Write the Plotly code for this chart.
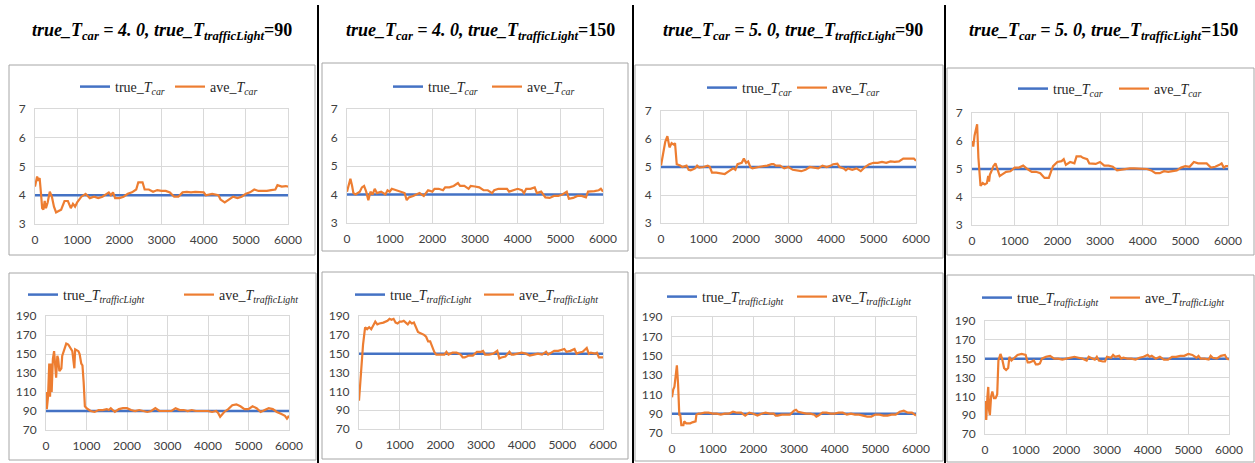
import plotly.graph_objects as go

W, H = 1255, 463

# ---------------- data ----------------
titles = [
    "<b><i>true_T<sub>car</sub> = 4. 0, true_T<sub>trafficLight</sub></i>=90</b>",
    "<b><i>true_T<sub>car</sub> = 4. 0, true_T<sub>trafficLight</sub></i>=150</b>",
    "<b><i>true_T<sub>car</sub> = 5. 0, true_T<sub>trafficLight</sub></i>=90</b>",
    "<b><i>true_T<sub>car</sub> = 5. 0, true_T<sub>trafficLight</sub></i>=150</b>",
]
true_car = [4.0, 4.0, 5.0, 5.0]
true_tl = [90, 150, 90, 150]
x_span = [0, 6000]
car_ticks = [3, 4, 5, 6, 7]
tl_ticks = [70, 90, 110, 130, 150, 170, 190]
x_ticks = [0, 1000, 2000, 3000, 4000, 5000, 6000]

legend_car = ["true_<i>T<sub>car</sub></i>", "ave_<i>T<sub>car</sub></i>"]
legend_tl = ["true_<i>T<sub>trafficLight</sub></i>", "ave_<i>T<sub>trafficLight</sub></i>"]

c1_car_x = [0, 50, 80, 110, 140, 170, 200, 230, 260, 300, 350, 400, 450, 500, 560, 620, 700, 780, 850, 900,
            950, 1000, 1100, 1200, 1300, 1400, 1500, 1600, 1700, 1750, 1800, 1850, 1900, 2000, 2100, 2200,
            2300, 2400, 2450, 2550, 2600, 2700, 2800, 2900, 3000, 3100, 3200, 3300, 3400, 3500, 3600, 3700,
            3800, 3900, 4000, 4050, 4200, 4350, 4400, 4500, 4600, 4700, 4800, 4900, 5000, 5100, 5200, 5300,
            5400, 5500, 5600, 5700, 5750, 5850, 5950, 6000]
c1_car_y = [4.3, 4.65, 4.5, 4.6, 4.1, 3.55, 3.5, 3.8, 3.55, 3.75, 4.12, 3.95, 3.6, 3.4, 3.45, 3.5, 3.8, 3.8, 3.55, 3.7,
            3.6, 3.75, 3.95, 4.05, 3.9, 3.95, 3.9, 3.95, 4.05, 4.1, 4.0, 4.1, 3.9, 3.9, 3.95, 4.05,
            4.1, 4.2, 4.45, 4.45, 4.2, 4.2, 4.12, 4.18, 4.15, 4.15, 4.1, 3.95, 3.95, 4.1, 4.12, 4.1,
            4.12, 4.12, 4.1, 4.0, 4.05, 4.0, 3.85, 3.75, 3.85, 3.95, 3.9, 3.95, 4.05, 4.1, 4.2, 4.15,
            4.15, 4.15, 4.18, 4.2, 4.35, 4.3, 4.32, 4.3]

c1_tl_x = [0, 20, 50, 80, 100, 120, 140, 170, 200, 230, 250, 280, 300, 330, 380, 400, 450, 500, 550, 600, 650,
           700, 720, 800, 830, 870, 900, 930, 960, 1000, 1100, 1200, 1300, 1400, 1500, 1550, 1600, 1700, 1800,
           1900, 2000, 2100, 2200, 2300, 2400, 2500, 2600, 2700, 2800, 2900, 3000, 3100, 3200, 3300, 3400,
           3500, 3600, 3700, 3800, 3900, 4000, 4100, 4200, 4250, 4300, 4400, 4500, 4600, 4700, 4800, 4900,
           5000, 5100, 5200, 5300, 5400, 5500, 5600, 5700, 5800, 5900, 5950, 6000]
c1_tl_y = [110, 92, 105, 140, 105, 140, 110, 145, 153, 135, 125, 148, 145, 132, 135, 148, 155, 161, 160, 157, 153,
           135, 155, 153, 150, 140, 138, 120, 95, 93, 90, 89, 91, 91, 92, 91, 93, 89, 92,
           93, 93, 91, 90, 91, 90, 89, 90, 93, 90, 90, 90, 90, 93, 91, 91,
           90, 91, 90, 90, 90, 90, 89, 90, 88, 84, 89, 92, 96, 97, 95, 92,
           92, 95, 93, 89, 91, 93, 92, 89, 87, 85, 82, 85]

c2_car_x = [0, 50, 80, 120, 150, 200, 250, 300, 350, 400, 450, 500, 550, 600, 650, 700, 800, 900, 950, 1000,
            1050, 1150, 1250, 1350, 1400, 1450, 1550, 1650, 1700, 1800, 1850, 1900, 2000, 2050, 2150, 2250,
            2300, 2400, 2500, 2600, 2650, 2750, 2850, 2900, 3000, 3100, 3200, 3300, 3400, 3450, 3550, 3650,
            3750, 3800, 3900, 4000, 4100, 4150, 4200, 4300, 4400, 4450, 4550, 4650, 4750, 4850, 4950, 5050,
            5150, 5200, 5300, 5400, 5500, 5600, 5650, 5700, 5800, 5900, 5950, 6000]
c2_car_y = [4.1, 4.35, 4.55, 4.3, 4.05, 4.0, 4.05, 4.1, 4.25, 4.3, 4.1, 3.8, 4.1, 4.0, 4.2, 4.05, 4.1, 4.0, 4.15, 4.1,
            4.2, 4.15, 4.1, 4.05, 3.8, 3.9, 3.95, 4.0, 4.05, 3.95, 4.05, 4.15, 4.1, 4.2, 4.2, 4.15,
            4.25, 4.25, 4.3, 4.4, 4.3, 4.3, 4.2, 4.3, 4.28, 4.25, 4.15, 4.15, 4.05, 4.15, 4.2, 4.2,
            4.2, 4.1, 4.15, 4.2, 4.15, 4.05, 4.2, 4.2, 4.25, 4.05, 4.1, 3.9, 3.88, 3.95, 3.95, 4.0,
            4.1, 3.85, 3.88, 3.95, 3.95, 3.9, 4.1, 4.1, 4.12, 4.15, 4.2, 4.1]

c2_tl_x = [0, 50, 100, 150, 200, 250, 300, 350, 400, 450, 500, 600, 700, 750, 800, 850, 900, 950, 1000, 1050,
           1100, 1150, 1200, 1250, 1300, 1350, 1400, 1450, 1500, 1600, 1650, 1700, 1750, 1800, 1850, 1900,
           2000, 2100, 2150, 2200, 2300, 2400, 2500, 2550, 2600, 2700, 2800, 2900, 3000, 3050, 3100, 3200,
           3300, 3400, 3450, 3500, 3600, 3700, 3750, 3800, 3900, 4000, 4100, 4200, 4300, 4400, 4500, 4600,
           4650, 4800, 4900, 5000, 5050, 5100, 5200, 5300, 5350, 5400, 5500, 5600, 5650, 5700, 5800, 5850,
           5900, 6000]
c2_tl_y = [100, 130, 160, 178, 176, 178, 176, 180, 184, 181, 182, 183, 185, 187, 186, 187, 183, 182, 184, 184,
           185, 183, 181, 184, 182, 183, 178, 173, 172, 170, 168, 163, 163, 157, 152, 149,
           149, 149, 152, 149, 151, 151, 149, 146, 146, 148, 148, 152, 152, 153, 149, 149,
           150, 153, 145, 146, 147, 152, 149, 149, 150, 151, 150, 148, 149, 150, 149, 152,
           149, 153, 153, 154, 155, 152, 153, 155, 150, 151, 152, 156, 150, 151, 150, 151,
           146, 146]

c3_car_x = [0, 50, 100, 150, 200, 250, 300, 330, 370, 450, 500, 600, 650, 700, 800, 850, 900, 1000, 1100, 1150,
            1200, 1300, 1400, 1500, 1600, 1700, 1750, 1800, 1900, 1950, 2000, 2050, 2100, 2150, 2300, 2400,
            2500, 2600, 2650, 2700, 2800, 2900, 3000, 3100, 3200, 3300, 3400, 3500, 3600, 3700, 3800, 3900,
            4000, 4050, 4150, 4200, 4300, 4350, 4400, 4500, 4600, 4700, 4800, 4900, 5000, 5100, 5200, 5300,
            5400, 5500, 5600, 5700, 5800, 5900, 5950, 6000]
c3_car_y = [5.05, 5.5, 5.9, 6.1, 5.7, 5.85, 5.8, 5.85, 5.1, 5.05, 5.0, 5.05, 4.9, 4.88, 4.95, 5.05, 4.98, 5.0, 5.05, 5.0,
            4.8, 4.8, 4.78, 4.75, 4.85, 4.95, 4.9, 5.1, 5.15, 5.3, 5.15, 5.2, 5.0, 4.95, 5.0, 5.02,
            5.05, 5.1, 5.1, 5.05, 5.05, 4.95, 5.0, 4.9, 4.88, 4.85, 4.9, 5.0, 4.98, 4.95, 5.05, 5.0,
            5.05, 5.1, 5.12, 5.0, 4.95, 4.88, 4.95, 4.9, 4.95, 4.85, 5.0, 5.1, 5.15, 5.15, 5.18, 5.15,
            5.2, 5.18, 5.2, 5.3, 5.3, 5.3, 5.3, 5.22]

c3_tl_x = [0, 30, 60, 100, 120, 150, 180, 200, 230, 280, 300, 350, 400, 450, 500, 550, 580, 600, 650, 700, 800,
           900, 1000, 1100, 1200, 1300, 1400, 1500, 1600, 1700, 1800, 1900, 2000, 2100, 2200, 2300, 2400,
           2500, 2550, 2600, 2700, 2800, 2900, 3000, 3050, 3100, 3200, 3300, 3400, 3500, 3550, 3600, 3700,
           3800, 3900, 4000, 4100, 4200, 4300, 4400, 4500, 4600, 4700, 4800, 4900, 5000, 5100, 5200, 5300,
           5400, 5500, 5600, 5700, 5800, 5900, 6000]
c3_tl_y = [107, 115, 118, 135, 140, 120, 88, 90, 78, 78, 82, 80, 80, 80, 81, 82, 82, 89, 90, 90, 91,
           91, 90, 90, 89, 90, 90, 92, 91, 91, 88, 91, 90, 88, 90, 91, 90,
           90, 88, 88, 89, 89, 89, 93, 94, 92, 91, 90, 90, 89, 87, 88, 91,
           91, 90, 90, 91, 91, 89, 90, 89, 89, 88, 87, 87, 89, 89, 88, 88,
           89, 89, 92, 93, 91, 91, 88]

c4_car_x = [0, 30, 60, 100, 120, 150, 170, 200, 250, 300, 350, 380, 400, 420, 450, 500, 550, 600, 650, 700,
            800, 900, 1000, 1100, 1200, 1300, 1400, 1500, 1600, 1700, 1800, 1850, 1900, 2000, 2100, 2150,
            2200, 2300, 2400, 2450, 2550, 2600, 2700, 2750, 2900, 3000, 3100, 3200, 3300, 3400, 3500, 3600,
            3700, 3800, 3900, 4000, 4100, 4200, 4300, 4400, 4500, 4600, 4700, 4800, 4900, 5000, 5100, 5200,
            5300, 5400, 5500, 5600, 5700, 5800, 5850, 5900, 5950, 6000]
c4_car_y = [6.0, 5.8, 6.2, 6.5, 6.6, 5.4, 4.8, 4.4, 4.5, 4.45, 4.5, 4.75, 4.55, 4.8, 4.9, 5.1, 5.2, 5.0, 4.75, 4.8,
            4.9, 4.92, 5.05, 5.05, 5.12, 5.0, 4.9, 4.9, 4.85, 4.68, 4.68, 4.9, 5.1, 5.25, 5.28, 5.35,
            5.15, 5.25, 5.2, 5.45, 5.45, 5.4, 5.35, 5.2, 5.18, 5.25, 5.12, 5.12, 5.08, 4.95, 4.98, 5.0,
            5.02, 5.02, 5.02, 5.0, 5.0, 4.95, 4.85, 4.85, 4.92, 4.9, 4.92, 4.95, 5.05, 5.1, 5.08, 5.25,
            5.2, 5.2, 5.2, 5.05, 5.08, 5.15, 5.2, 5.05, 5.1, 5.1]

c4_tl_x = [0, 30, 60, 80, 100, 120, 150, 180, 220, 260, 300, 330, 380, 420, 470, 520, 570, 600, 650, 700, 800,
           900, 1000, 1050, 1100, 1200, 1250, 1300, 1350, 1400, 1500, 1600, 1700, 1800, 1900, 2000, 2100,
           2200, 2300, 2400, 2500, 2550, 2600, 2700, 2750, 2800, 2900, 2950, 3000, 3100, 3150, 3200, 3300,
           3350, 3400, 3500, 3600, 3700, 3800, 3900, 4000, 4050, 4100, 4200, 4300, 4400, 4500, 4600, 4700,
           4800, 4900, 5000, 5100, 5200, 5250, 5300, 5400, 5500, 5550, 5600, 5700, 5800, 5900, 5950, 6000]
c4_tl_y = [105, 85, 110, 120, 95, 90, 110, 115, 108, 108, 112, 148, 155, 150, 140, 138, 140, 152, 148, 150, 154,
           155, 154, 146, 146, 148, 144, 144, 145, 150, 152, 153, 150, 150, 149, 150, 151,
           152, 151, 150, 148, 152, 151, 149, 152, 148, 147, 147, 152, 151, 154, 152, 153,
           150, 151, 150, 150, 149, 151, 152, 154, 152, 153, 150, 152, 149, 149, 152, 152,
           153, 153, 155, 154, 151, 153, 150, 150, 149, 153, 151, 150, 153, 154, 150, 149]

car_series = [(c1_car_x, c1_car_y), (c2_car_x, c2_car_y), (c3_car_x, c3_car_y), (c4_car_x, c4_car_y)]
tl_series = [(c1_tl_x, c1_tl_y), (c2_tl_x, c2_tl_y), (c3_tl_x, c3_tl_y), (c4_tl_x, c4_tl_y)]

# ---------------- layout geometry (pixels) ----------------
plot_top = [(35, 109, 288, 224), (347, 109, 603, 223), (661, 111, 916, 223), (972, 113, 1228, 225)]
plot_bot = [(46, 316, 289, 430), (359, 316, 603, 429), (672, 317, 916, 433), (985, 321, 1229, 434)]
box_top = [(9, 65, 315, 255), (322, 63, 628, 251), (635, 65, 943, 258), (947, 68, 1254, 255)]
box_bot = [(9, 273, 316, 460), (322, 272, 628, 459), (635, 273, 943, 461), (947, 275, 1254, 462)]
# legend: (first sample left x, center y, spacing between entries)
leg_top = [(80, 87, 100), (393, 87, 104), (707, 88, 95), (1018, 89, 106)]
leg_bot = [(28, 295, 161), (355, 295, 134), (667, 297, 135), (982, 298, 133)]
title_pos = [(162, 32), (480, 32), (793, 32), (1103, 32)]
sep_x = [318, 633, 945]
ENTRY_EXTRA = 50

BLUE = "#4472C4"
ORANGE = "#ED7D31"
GRID = "#d9d9d9"
TICKFONT = dict(family="Lato, Liberation Sans, sans-serif", size=12, color="#404040")
LEGFONT = dict(family="Liberation Serif, DejaVu Serif, serif", size=14, color="#262626")


def px_x(v):
    return v / W


def px_y(v):
    return 1 - v / H


fig = go.Figure()
layout = dict(width=W, height=H, margin=dict(l=0, r=0, t=0, b=0, autoexpand=False),
              paper_bgcolor="white", plot_bgcolor="white", showlegend=True)
shapes = []
annotations = []

panel = 0
for col in range(4):
    for row in range(2):
        panel += 1
        sfx = "" if panel == 1 else str(panel)
        legname = "legend" if panel == 1 else "legend%d" % panel
        if row == 0:
            (l, t, r, b) = plot_top[col]
            box = box_top[col]
            lg = leg_top[col]
            xs, ys = car_series[col]
            tv = true_car[col]
            names = legend_car
            yr = [3, 7]
            yt = car_ticks
        else:
            (l, t, r, b) = plot_bot[col]
            box = box_bot[col]
            lg = leg_bot[col]
            xs, ys = tl_series[col]
            tv = true_tl[col]
            names = legend_tl
            yr = [70, 190]
            yt = tl_ticks
        layout["xaxis" + sfx] = dict(domain=[px_x(l), px_x(r)], range=x_span, anchor="y" + sfx,
                                     tickvals=x_ticks, showgrid=True, gridcolor=GRID, gridwidth=1,
                                     showline=True, linecolor=GRID, mirror=True, zeroline=False,
                                     ticks="outside", ticklen=5, tickcolor="rgba(0,0,0,0)",
                                     tickfont=TICKFONT, fixedrange=True, automargin=False)
        layout["yaxis" + sfx] = dict(domain=[px_y(b), px_y(t)], range=yr, anchor="x" + sfx,
                                     tickvals=yt, showgrid=True, gridcolor=GRID, gridwidth=1,
                                     showline=True, linecolor=GRID, mirror=True, zeroline=False,
                                     ticks="outside", ticklen=6, tickcolor="rgba(0,0,0,0)",
                                     tickfont=TICKFONT, fixedrange=True, automargin=False)
        layout[legname] = dict(orientation="h", x=px_x(lg[0] - 5), xanchor="left",
                               y=px_y(lg[1]), yanchor="middle", bgcolor="rgba(0,0,0,0)",
                               font=LEGFONT, entrywidth=max(lg[2] - ENTRY_EXTRA, 10),
                               entrywidthmode="pixels", itemwidth=30, tracegroupgap=0)
        fig.add_trace(go.Scatter(x=x_span, y=[tv, tv], mode="lines", name=names[0],
                                 line=dict(color=BLUE, width=2.5), xaxis="x" + sfx, yaxis="y" + sfx,
                                 legend=legname, hoverinfo="skip"))
        fig.add_trace(go.Scatter(x=xs, y=ys, mode="lines", name=names[1],
                                 line=dict(color=ORANGE, width=2.2), xaxis="x" + sfx, yaxis="y" + sfx,
                                 legend=legname, hoverinfo="skip"))
        shapes.append(dict(type="rect", xref="paper", yref="paper",
                           x0=px_x(box[0]), x1=px_x(box[2]), y0=px_y(box[3]), y1=px_y(box[1]),
                           line=dict(color="#a6a6a6", width=1), fillcolor="rgba(0,0,0,0)", layer="below"))

for i, (tx, ty) in enumerate(title_pos):
    annotations.append(dict(text=titles[i], x=px_x(tx), y=px_y(ty), xref="paper", yref="paper",
                            xanchor="center", yanchor="middle", showarrow=False,
                            font=dict(family="Liberation Serif, DejaVu Serif, serif", size=18, color="black")))

for sx in sep_x:
    shapes.append(dict(type="line", xref="paper", yref="paper", x0=px_x(sx), x1=px_x(sx),
                       y0=0, y1=px_y(5), line=dict(color="black", width=2)))

layout["shapes"] = shapes
layout["annotations"] = annotations
fig.update_layout(**layout)

fig.write_html("out.html", config={"displayModeBar": False},
               post_script="document.body.style.margin='0px';document.body.style.overflow='hidden';")
